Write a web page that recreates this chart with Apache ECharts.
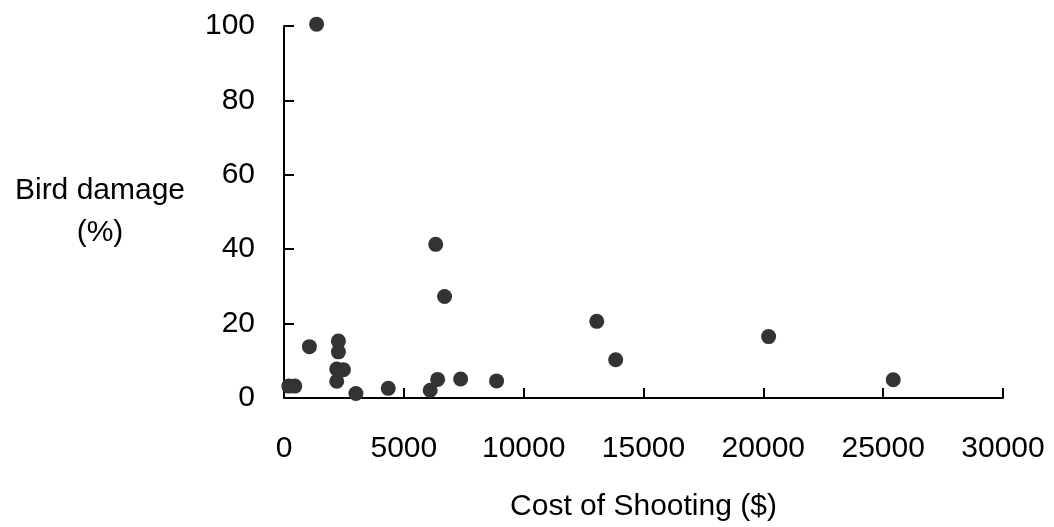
<!DOCTYPE html>
<html>
<head>
<meta charset="utf-8">
<script src="https://cdn.jsdelivr.net/npm/echarts@6/dist/echarts.min.js"></script>
<style>html,body{margin:0;padding:0;background:#fff}#c{width:1054px;height:527px}</style>
</head>
<body>
<div id="c"></div>
<script>
const costOfShooting = [200, 450, 1060, 2270, 2270, 2200, 2480, 2200, 3000, 4350, 6100, 6410, 7370, 8870, 6330, 6700, 13050, 13840, 20220, 25420, 1360];
const birdDamage = [3.2, 3.2, 13.8, 15.3, 12.4, 7.8, 7.6, 4.5, 1.2, 2.6, 2.1, 5.0, 5.1, 4.6, 41.3, 27.3, 20.6, 10.3, 16.5, 4.9, 100.5];
const xTicks = [0, 5000, 10000, 15000, 20000, 25000, 30000];
const yTicks = [0, 20, 40, 60, 80, 100];

const points = costOfShooting.map((x, i) => [x, birdDamage[i]]);
const font = 'Liberation Sans, Arial, sans-serif';
const chart = echarts.init(document.getElementById('c'));
chart.setOption({
  animation: false,
  backgroundColor: '#fff',
  grid: { left: 284, right: 51, top: 26, bottom: 128, containLabel: false },
  xAxis: {
    type: 'value',
    min: xTicks[0], max: xTicks[xTicks.length - 1], interval: 5000,
    name: 'Cost of Shooting ($)',
    nameLocation: 'middle',
    nameGap: 94,
    nameTextStyle: { fontFamily: font, fontSize: 30, color: '#000' },
    axisLine: { show: true, lineStyle: { color: '#000', width: 2 } },
    axisTick: { show: true, inside: true, length: 10, lineStyle: { color: '#000', width: 2 } },
    axisLabel: { fontFamily: font, fontSize: 30, color: '#000', margin: 36, formatter: v => String(v) },
    splitLine: { show: false }
  },
  yAxis: {
    type: 'value',
    min: yTicks[0], max: yTicks[yTicks.length - 1], interval: 20,
    name: 'Bird damage\n(%)',
    nameLocation: 'middle',
    nameRotate: 0,
    nameGap: 184,
    nameTextStyle: { fontFamily: font, fontSize: 30, color: '#000', align: 'center', verticalAlign: 'middle', lineHeight: 42, padding: [6, 0, 0, 0] },
    axisLine: { show: true, lineStyle: { color: '#000', width: 2 } },
    axisTick: { show: true, inside: true, length: 10, lineStyle: { color: '#000', width: 2 } },
    axisLabel: { fontFamily: font, fontSize: 30, color: '#000', margin: 29 },
    splitLine: { show: false }
  },
  series: [{
    type: 'scatter',
    data: points,
    symbol: 'circle',
    symbolSize: 15,
    clip: false,
    itemStyle: { color: '#333333', opacity: 1 }
  }]
});
</script>
</body>
</html>
